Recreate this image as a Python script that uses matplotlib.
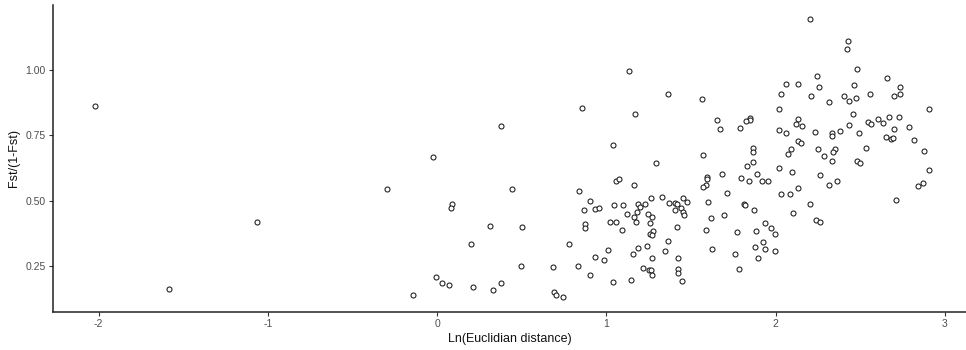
import matplotlib
matplotlib.use("Agg")
import matplotlib.pyplot as plt

plt.rcParams['font.family'] = ['Liberation Sans', 'DejaVu Sans']

# Ln(Euclidian distance)
x_vals = [
    -2.023, -1.584, -1.064, -0.298, -0.027, 0.087, 0.081, 0.200, -0.143, -0.005, 0.028, 0.072, 0.213,
    2.202, 2.426, 2.422, 2.481, 2.655, 2.245, 2.060, 2.129, 2.257, 2.462, 2.732, 2.032, 2.206, 2.401,
    2.432, 2.476, 2.556, 2.698, 2.734, 2.314, 1.132, 1.364, 1.563, 0.858, 1.171, 0.379, 2.020, 2.903,
    2.456, 1.656, 1.670, 1.847, 1.847, 1.822, 1.788, 2.129, 2.119, 2.154, 2.430, 2.546, 2.560, 2.606,
    2.633, 2.667, 2.726, 2.701, 2.789, 2.653, 2.682, 2.692, 2.818, 2.876, 2.905, 2.870, 2.838, 2.710,
    2.019, 2.060, 2.231, 2.330, 2.332, 2.379, 2.491, 2.133, 2.147, 2.093, 2.070, 2.251, 2.283, 2.348,
    2.340, 2.334, 2.533, 2.481, 2.495, 2.022, 2.097, 2.263, 2.312, 2.363, 2.032, 2.087, 2.129, 2.101,
    2.202, 2.237, 2.261,
    1.865, 1.863, 1.865, 1.831, 1.569, 1.888, 1.680, 1.792, 1.843, 1.918, 1.957, 1.593, 1.593, 1.587,
    1.569, 1.711, 1.597, 1.812, 1.817, 1.873, 1.695, 1.617, 1.936, 1.975, 1.995, 1.885, 1.591, 1.772,
    1.922, 1.875, 1.936, 1.995, 1.621, 1.760, 1.898, 1.782,
    1.041, 1.294, 1.059, 1.073, 1.160, 0.840, 0.444, 0.903, 0.868, 0.931, 0.957, 1.043, 1.097, 1.185,
    1.229, 1.201, 1.266, 1.327, 1.453, 1.372, 1.406, 1.414, 1.473, 1.443, 1.406, 1.453, 1.461, 1.122,
    1.183, 1.163, 1.246, 1.270, 1.256, 1.175, 1.020, 1.059, 1.089, 0.874, 0.872, 0.502, 0.312, 1.418,
    1.274, 1.258, 1.272, 0.777, 1.366, 1.008, 1.185, 1.238, 1.158, 1.343, 0.933, 0.988, 1.268, 1.420,
    0.496, 0.685, 0.833, 1.217, 1.252, 1.262, 0.900, 1.268, 1.422, 1.422, 1.041, 1.146, 1.445, 0.379,
    0.332, 0.693, 0.703, 0.744,
]

# Fst/(1-Fst)
y_vals = [
    0.862, 0.162, 0.419, 0.543, 0.668, 0.488, 0.473, 0.335, 0.139, 0.207, 0.185, 0.175, 0.170,
    1.195, 1.110, 1.080, 1.005, 0.971, 0.978, 0.945, 0.945, 0.934, 0.941, 0.934, 0.908, 0.902, 0.902,
    0.883, 0.893, 0.908, 0.902, 0.908, 0.877, 0.996, 0.907, 0.889, 0.855, 0.833, 0.787, 0.851, 0.852,
    0.833, 0.807, 0.774, 0.817, 0.809, 0.804, 0.777, 0.812, 0.792, 0.787, 0.788, 0.801, 0.793, 0.814,
    0.796, 0.819, 0.821, 0.775, 0.783, 0.744, 0.735, 0.741, 0.732, 0.691, 0.617, 0.566, 0.556, 0.502,
    0.769, 0.759, 0.764, 0.758, 0.747, 0.768, 0.760, 0.727, 0.722, 0.698, 0.679, 0.698, 0.672, 0.699,
    0.687, 0.653, 0.701, 0.652, 0.643, 0.626, 0.610, 0.597, 0.560, 0.573, 0.524, 0.525, 0.547, 0.454,
    0.485, 0.425, 0.416,
    0.703, 0.684, 0.648, 0.633, 0.673, 0.602, 0.601, 0.588, 0.574, 0.574, 0.573, 0.589, 0.583, 0.559,
    0.552, 0.527, 0.496, 0.485, 0.481, 0.464, 0.445, 0.432, 0.413, 0.394, 0.370, 0.385, 0.388, 0.380,
    0.343, 0.323, 0.315, 0.306, 0.316, 0.296, 0.278, 0.237,
    0.714, 0.642, 0.576, 0.583, 0.559, 0.536, 0.545, 0.500, 0.462, 0.467, 0.472, 0.482, 0.482, 0.485,
    0.486, 0.476, 0.509, 0.513, 0.510, 0.490, 0.490, 0.487, 0.495, 0.473, 0.464, 0.455, 0.445, 0.448,
    0.457, 0.437, 0.449, 0.435, 0.413, 0.416, 0.417, 0.417, 0.389, 0.411, 0.394, 0.398, 0.403, 0.399,
    0.383, 0.371, 0.367, 0.332, 0.344, 0.309, 0.320, 0.325, 0.296, 0.306, 0.282, 0.274, 0.279, 0.279,
    0.251, 0.247, 0.250, 0.242, 0.233, 0.233, 0.214, 0.215, 0.237, 0.222, 0.189, 0.195, 0.192, 0.185,
    0.158, 0.148, 0.139, 0.129,
]

x_ticks = [-2, -1, 0, 1, 2, 3]
x_tick_labels = ["-2", "-1", "0", "1", "2", "3"]
y_ticks = [0.25, 0.50, 0.75, 1.00]
y_tick_labels = ["0.25", "0.50", "0.75", "1.00"]

fig = plt.figure(figsize=(9.66, 3.5), dpi=100)
ax = fig.add_axes([0.0546, 0.1086, 1.0 - 0.0546, 0.9857 - 0.1086])

ax.scatter(x_vals, y_vals, s=13, facecolors='white', edgecolors='#1a1a1a',
           linewidths=0.75, zorder=3)

ax.set_xlim(-2.271, 3.124)
ax.set_ylim(0.073, 1.249)
ax.set_xticks(x_ticks)
ax.set_xticklabels(x_tick_labels)
ax.set_yticks(y_ticks)
ax.set_yticklabels(y_tick_labels)

for side in ['top', 'right']:
    ax.spines[side].set_visible(False)
for side in ['left', 'bottom']:
    ax.spines[side].set_color('#222222')
    ax.spines[side].set_linewidth(1.1)

ax.tick_params(axis='both', colors='#333333', labelcolor='#4d4d4d',
               labelsize=7.5, length=3, width=0.8, pad=2)

ax.set_xlabel("Ln(Euclidian distance)", fontsize=9, color='#111111', labelpad=3)
ax.set_ylabel("Fst/(1-Fst)", fontsize=9, color='#111111', labelpad=4)

fig.savefig("out.png", dpi=100)
